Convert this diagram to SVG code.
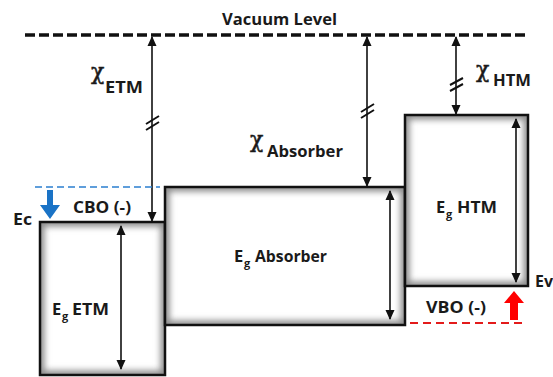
<svg xmlns="http://www.w3.org/2000/svg" width="553" height="377" viewBox="0 0 553 377">
<style>
.t{font-family:"Open Sans","Liberation Sans",sans-serif;font-weight:bold;font-size:16.5px;fill:#1a1a1a}
.sub{font-family:"Open Sans","Liberation Sans",sans-serif;font-weight:bold;font-size:11px;fill:#1a1a1a}
.chi{font-family:"DejaVu Serif","Liberation Serif",serif;font-size:22px;fill:#1a1a1a;stroke:#1a1a1a;stroke-width:0.5}
.box{fill:#fff}
.sh{fill:none;stroke:#8a8a8a;stroke-width:9;filter:url(#blur)}
.edge{fill:none;stroke:#111;stroke-width:2.5}
.arr{stroke:#111;stroke-width:1.6;fill:none;marker-start:url(#ah);marker-end:url(#ah)}
.brk{stroke:#111;stroke-width:2;fill:none}
</style>
<defs>
<marker id="ah" viewBox="0 0 10 10" refX="9" refY="5" markerWidth="10" markerHeight="10" markerUnits="userSpaceOnUse" orient="auto-start-reverse">
<path d="M0,0.5 L10,5 L0,9.5 z" fill="#111"/>
</marker>
<filter id="blur" x="-20%" y="-20%" width="140%" height="140%">
<feGaussianBlur stdDeviation="3"/>
</filter>
<clipPath id="cEtm"><rect x="40" y="222" width="125" height="153"/></clipPath>
<clipPath id="cAbs"><rect x="165" y="187" width="240" height="138"/></clipPath>
<clipPath id="cHtm"><rect x="405" y="115" width="123" height="171"/></clipPath>
</defs>

<rect width="553" height="377" fill="#fff"/>

<g id="vacuum">
<line x1="25" y1="35" x2="528" y2="35" stroke="#111" stroke-width="3.5" stroke-dasharray="10 4"/>
<text class="t" x="222" y="25" textLength="115" lengthAdjust="spacingAndGlyphs">Vacuum Level</text>
</g>

<g id="etm">
<rect class="box" x="40" y="222" width="125" height="153"/>
<g clip-path="url(#cEtm)"><rect class="sh" x="40" y="222" width="125" height="153"/></g>
<rect class="edge" x="40" y="222" width="125" height="153"/>
<text class="t" x="52" y="315">E</text><text class="sub" x="62" y="320">g</text><text class="t" x="72" y="315" textLength="37" lengthAdjust="spacingAndGlyphs">ETM</text>
</g>

<g id="absorber">
<rect class="box" x="165" y="187" width="240" height="138"/>
<g clip-path="url(#cAbs)"><rect class="sh" x="165" y="187" width="240" height="138"/></g>
<rect class="edge" x="165" y="187" width="240" height="138"/>
<text class="t" x="234" y="262">E</text><text class="sub" x="244" y="267">g</text><text class="t" x="255" y="262" textLength="72" lengthAdjust="spacingAndGlyphs">Absorber</text>
</g>

<g id="htm">
<rect class="box" x="405" y="115" width="123" height="171"/>
<g clip-path="url(#cHtm)"><rect class="sh" x="405" y="115" width="123" height="171"/></g>
<rect class="edge" x="405" y="115" width="123" height="171"/>
<text class="t" x="436" y="213">E</text><text class="sub" x="446" y="218">g</text><text class="t" x="457" y="213" textLength="40" lengthAdjust="spacingAndGlyphs">HTM</text>
</g>

<g id="labels">
<text class="chi" x="91" y="79">χ</text>
<text class="t" x="105" y="93" textLength="38" lengthAdjust="spacingAndGlyphs">ETM</text>
<text class="chi" x="250" y="147">χ</text>
<text class="t" x="267" y="157" textLength="76" lengthAdjust="spacingAndGlyphs">Absorber</text>
<text class="chi" x="476" y="77">χ</text>
<text class="t" x="493" y="86" textLength="38" lengthAdjust="spacingAndGlyphs">HTM</text>
<text class="t" x="73" y="213" textLength="58" lengthAdjust="spacingAndGlyphs">CBO (-)</text>
<text class="t" x="13" y="225" textLength="19" lengthAdjust="spacingAndGlyphs">Ec</text>
<text class="t" x="426" y="313" textLength="60" lengthAdjust="spacingAndGlyphs">VBO (-)</text>
<text class="t" x="535" y="287" textLength="18" lengthAdjust="spacingAndGlyphs">Ev</text>
</g>

<g id="connectors">
<line class="arr" x1="152" y1="37" x2="152" y2="221"/>
<line class="arr" x1="367" y1="37" x2="367" y2="186"/>
<line class="arr" x1="456" y1="37" x2="456" y2="114"/>
<line class="arr" x1="121" y1="226" x2="121" y2="369"/>
<line class="arr" x1="390" y1="191" x2="390" y2="319"/>
<line class="arr" x1="516" y1="119" x2="516" y2="282"/>
<path class="brk" d="M146,124 L159,116 M146,130 L159,122"/>
<path class="brk" d="M361,112 L374,104 M361,118 L374,110"/>
<path class="brk" d="M450,85 L463,78 M450,91 L463,84"/>
<line x1="35" y1="187" x2="160" y2="187" stroke="#2b7fd0" stroke-width="1.6" stroke-dasharray="7 4"/>
<path d="M47,190 L53,190 L53,205 L60,205 L50,219 L40,205 L47,205 z" fill="#1a73c6"/>
<line x1="410" y1="323" x2="523" y2="323" stroke="#e31b1b" stroke-width="2" stroke-dasharray="8 5"/>
<path d="M514,291 L524,303 L518,303 L518,320 L510,320 L510,303 L504,303 z" fill="#ff0000"/>
</g>
</svg>
